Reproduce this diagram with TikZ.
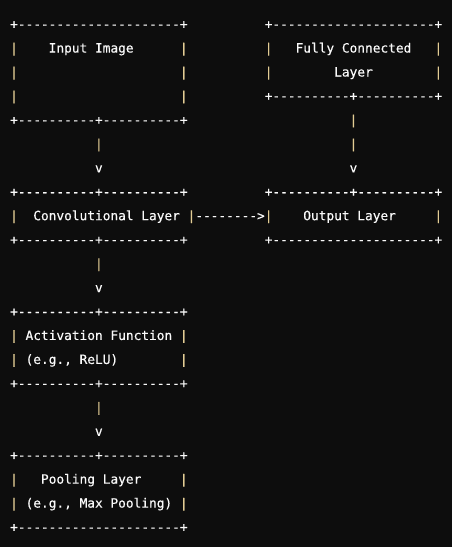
\documentclass[tikz,border=0pt]{standalone}
\usepackage{fontspec}
\newfontfamily\asciifont[FakeBold=0.35]{DejaVu Sans Mono}
\definecolor{bg}{HTML}{0D0D0D}
\definecolor{txt}{HTML}{FAFAFA}
\definecolor{bar}{HTML}{E2CC94}
\newcommand\seg[4]{\node[asc] (#1) at ({10.14+7.715*#2},{28.6+23.95*#3}) {#4};}
\newcommand\pipe[3]{\node[asc,barc] (#1) at ({10.14+7.715*#2},{28.6+23.95*#3}) {|};}
\begin{document}
\begin{tikzpicture}[x=1pt,y=-1pt,
  asc/.style={inner sep=0pt, outer sep=0pt, anchor=base west,
    font=\asciifont\fontsize{12.82}{14}\selectfont, text=txt},
  barc/.style={text=bar}]
\fill[bg] (0,0) rectangle (452,547);
\useasboundingbox (0,0) rectangle (452,547);
% row 0
\seg{inTop}{0}{0}{+---------------------+}
\seg{fcTop}{33}{0}{+---------------------+}
% row 1
\pipe{inL1}{0}{1}\seg{inTxt}{5}{1}{Input Image}\pipe{inR1}{22}{1}
\pipe{fcL1}{33}{1}\seg{fcTxt1}{37}{1}{Fully Connected}\pipe{fcR1}{55}{1}
% row 2
\pipe{inL2}{0}{2}\pipe{inR2}{22}{2}
\pipe{fcL2}{33}{2}\seg{fcTxt2}{42}{2}{Layer}\pipe{fcR2}{55}{2}
% row 3
\pipe{inL3}{0}{3}\pipe{inR3}{22}{3}
\seg{fcBot}{33}{3}{+----------+----------+}
% row 4
\seg{inBot}{0}{4}{+----------+----------+}
\pipe{aTwoS1}{44}{4}
% row 5
\pipe{aOneS}{11}{5}\pipe{aTwoS2}{44}{5}
% row 6
\seg{aOneH}{11}{6}{v}\seg{aTwoH}{44}{6}{v}
% row 7
\seg{cvTop}{0}{7}{+----------+----------+}
\seg{outTop}{33}{7}{+----------+----------+}
% row 8
\pipe{cvL}{0}{8}\seg{cvTxt}{3}{8}{Convolutional Layer}\pipe{cvR}{23}{8}
\seg{aThree}{24}{8}{-------->}
\pipe{outL}{33}{8}\seg{outTxt}{38}{8}{Output Layer}\pipe{outR}{55}{8}
% row 9
\seg{cvBot}{0}{9}{+----------+----------+}
\seg{outBot}{33}{9}{+---------------------+}
% rows 10-11
\pipe{aFourS}{11}{10}
\seg{aFourH}{11}{11}{v}
% rows 12-15
\seg{acTop}{0}{12}{+----------+----------+}
\pipe{acL1}{0}{13}\seg{acTxt1}{2}{13}{Activation Function}\pipe{acR1}{22}{13}
\pipe{acL2}{0}{14}\seg{acTxt2}{2}{14}{(e.g., ReLU)}\pipe{acR2}{22}{14}
\seg{acBot}{0}{15}{+----------+----------+}
% rows 16-17
\pipe{aFiveS}{11}{16}
\seg{aFiveH}{11}{17}{v}
% rows 18-21
\seg{plTop}{0}{18}{+----------+----------+}
\pipe{plL1}{0}{19}\seg{plTxt1}{4}{19}{Pooling Layer}\pipe{plR1}{22}{19}
\pipe{plL2}{0}{20}\seg{plTxt2}{2}{20}{(e.g., Max Pooling)}\pipe{plR2}{22}{20}
\seg{plBot}{0}{21}{+---------------------+}
\end{tikzpicture}
\end{document}
